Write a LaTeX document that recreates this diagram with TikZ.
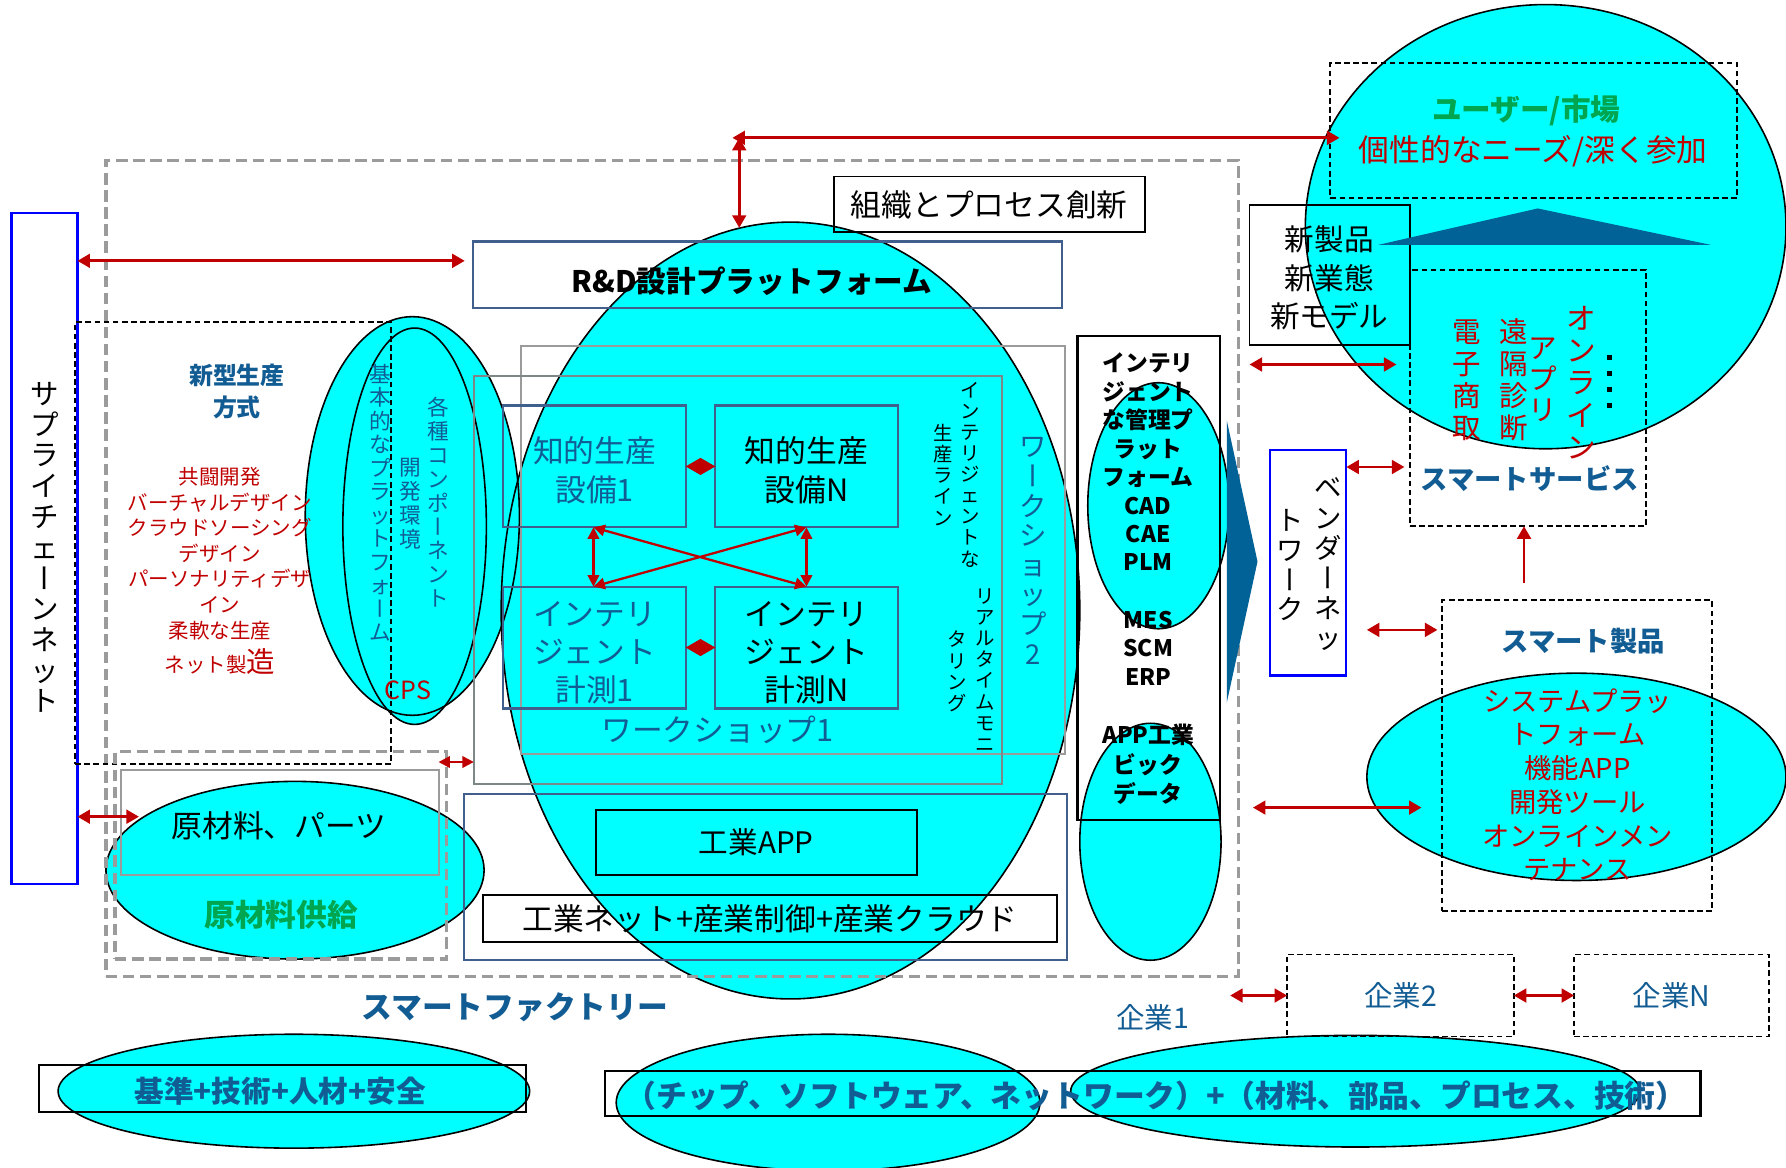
\documentclass[tikz,border=0pt]{standalone}
\usepackage{fontspec}
\setmainfont{Noto Sans CJK JP}
\usepackage{graphicx}
\usetikzlibrary{arrows.meta,fit}
\definecolor{myred}{RGB}{192,0,0}
\definecolor{tblue}{RGB}{18,92,148}
\definecolor{mygreen}{RGB}{0,165,80}
\definecolor{slate}{RGB}{65,95,140}
\definecolor{tri}{RGB}{0,98,150}
\definecolor{gline}{RGB}{155,155,155}
\definecolor{wsb}{RGB}{125,135,135}
\definecolor{mycyan}{RGB}{0,255,255}
\makeatletter
\newcommand\vtxt[2]{\vbox{\baselineskip=#1pt\lineskiplimit=-1000pt\lineskip=0pt\vt@loop#2\@nnil}}
\def\vt@loop#1{\ifx\@nnil#1\else\hbox to 1em{\hss\rule[-.12em]{0pt}{1em}#1\hss}\expandafter\vt@loop\fi}
\makeatother
\newcommand\vbar{\rotatebox[origin=c]{90}{\rule[-.12em]{0pt}{1em}ー}}
\begin{document}
\begin{tikzpicture}[x=1pt,y=-1pt,
  fs/.style args={#1/#2}{font=\fontsize{#1}{#2}\selectfont},
  fsb/.style args={#1/#2}{font=\fontsize{#1}{#2}\selectfont\bfseries},
  every node/.style={inner sep=0pt, outer sep=0pt},
  bx/.style={draw, line width=1.6pt},
  sbx/.style={draw=slate, line width=1.8pt},
  bbx/.style={draw=blue, line width=2pt},
  gdash/.style={draw=gline, line width=2.8pt, dash pattern=on 10pt off 5pt},
  kdash/.style={draw=black, line width=1.6pt, dash pattern=on 5pt off 3pt},
  gbox/.style={draw=wsb, line width=1.8pt},
  rarr/.style={draw=myred, line width=2.4pt, {Triangle[length=11pt,width=12pt]}-{Triangle[length=11pt,width=12pt]}},
  sarr/.style={draw=myred, line width=2pt, {Triangle[length=10pt,width=10pt]}-{Triangle[length=10pt,width=10pt]}},
  dia/.style={draw=myred, line width=1pt, -{Diamond[length=26pt,width=15pt]}},
]
\path[use as bounding box, fill=white] (0,0) rectangle (1568,1025);

% ellipses: fills then outlines
\foreach \cx/\cy/\rx/\ry in {694/536/254/341, 362/453/94/175, 364/462/63/174, 259/764/166/78, 1017/444/62/108, 1010/739/62/104, 1357/199/211/195, 1384/682/184/91, 258/958/207/50, 727/968/186/60, 1190/958/250/49}
  \fill[mycyan] (\cx,\cy) ellipse [x radius=\rx*1pt, y radius=\ry*1pt];
\foreach \cx/\cy/\rx/\ry in {694/536/254/341, 362/453/94/175, 364/462/63/174, 259/764/166/78, 1017/444/62/108, 1010/739/62/104, 1357/199/211/195, 1384/682/184/91, 258/958/207/50, 727/968/186/60, 1190/958/250/49}
  \draw[line width=1.4pt] (\cx,\cy) ellipse [x radius=\rx*1pt, y radius=\ry*1pt];

% boxes
\node[bbx, fit={(10,187) (68,776)}] (supply) {};
\node[gdash, fit={(93,141) (1087,857)}] (factory) {};
\node[bx, fit={(732,155) (1005,204)}] (org) {};
\node[sbx, fit={(415,212) (932,270)}] (rd) {};
\node[kdash, fit={(66,283) (343,671)}] (newstyle) {};
\node[gdash, fit={(101,660) (392,842)}] (rawO) {};
\node[gbox, draw=gline, fit={(106,676) (385,768)}] (rawI) {};
\node[gbox, draw=gline, fit={(457,304) (935,662)}] (ws2) {};
\node[gbox, fit={(416,330) (880,688)}] (ws1) {};
\node[sbx, fit={(442,356) (602,463)}] (eq1) {};
\node[sbx, fit={(628,356) (788,463)}] (eqN) {};
\node[sbx, fit={(442,515) (602,622)}] (ms1) {};
\node[sbx, fit={(628,515) (788,622)}] (msN) {};
\node[sbx, fit={(407,697) (937,843)}] (netO) {};
\node[bx, line width=2pt, fit={(523,711) (805,768)}] (app) {};
\node[bx, line width=2pt, fit={(424,786) (928,827)}] (net) {};
\node[bx, line width=2pt, fit={(946,295) (1071,720)}] (mgmt) {};
\node[bbx, fit={(1115,395) (1182,593)}] (vendor) {};
\node[bx, fit={(1097,180) (1238,303)}] (newprod) {};
\node[kdash, fit={(1168,55) (1525,174)}] (user) {};
\node[kdash, fit={(1238,237) (1445,462)}] (service) {};
\node[kdash, fit={(1266,527) (1503,800)}] (product) {};
\node[kdash, fit={(1130,838) (1329,910)}] (firm2) {};
\node[kdash, fit={(1382,838) (1553,910)}] (firmN) {};
\node[bx, line width=2pt, fit={(34,935) (462,976)}] (std) {};
\node[bx, line width=2pt, fit={(531,940) (1493,980)}] (tech) {};

% triangles
\fill[tri] (1077,369) -- (1104,493) -- (1077,617) -- cycle;
\fill[tri] (1210,215) -- (1350,183) -- (1502,215) -- cycle;

% connectors
\coordinate (c229) at (0,229);
\coordinate (c717) at (0,717);
\coordinate (c669) at (0,669);
\coordinate (c320) at (0,320);
\coordinate (c410) at (0,410);
\coordinate (c553) at (0,553);
\coordinate (c874) at (0,874);
\coordinate (tj) at (649,121);
\coordinate (bigTop) at (649,200);
\coordinate (rawL) at (122,717);
\coordinate (fL) at (1097,320);
\coordinate (vL) at (1200,553);
\coordinate (mL) at (1100,709);
\coordinate (pR) at (1248,709);
\coordinate (f1R) at (1080,874);
\coordinate (upS) at (1338,512);
\coordinate (w1) at (521,0);
\coordinate (w2) at (708,0);
\draw[rarr, shorten >=7pt] (supply.east |- c229) -- (rd.west |- c229);
\draw[rarr, shorten <=-6pt, shorten >=-8pt] (tj) -- (user.west |- tj);
\draw[rarr] (tj) -- (bigTop);
\draw[rarr] (supply.east |- c717) -- (rawL);
\draw[sarr, shorten <=-7pt] (rawO.east |- c669) -- (ws1.west |- c669);
\draw[rarr, shorten >=12pt] (fL) -- (service.west |- c320);
\draw[rarr, shorten >=5pt] (vendor.east |- c410) -- (service.west |- c410);
\draw[rarr, shorten >=4pt] (vL) -- (product.west |- c553);
\draw[rarr] (mL) -- (pR);
\draw[draw=myred, line width=2.4pt, -{Triangle[length=11pt,width=12pt]}] (upS) -- (service.south -| upS);
\draw[rarr] (f1R) -- (firm2.west |- c874);
\draw[rarr] (firm2.east |- c874) -- (firmN.west |- c874);
\draw[sarr] (eq1.south -| w1) -- (ms1.north -| w1);
\draw[sarr] (eqN.south -| w2) -- (msN.north -| w2);
\draw[sarr] (eq1.south -| w1) -- (msN.north -| w2);
\draw[sarr] (eqN.south -| w2) -- (ms1.north -| w1);
\draw[dia] (eq1.east) -- (eqN.west);
\draw[dia] (ms1.east) -- (msN.west);
\foreach \yy in {312,326,340,354} \fill (1411,\yy) rectangle (1415,\yy+4);

% texts
\node[fs=25/27, anchor=north] (supT) at (39,333) {\vtxt{27}{サプライチェ\vbar ンネット}};
\node[fs=27/30] (orgT) at (org.center) {組織とプロセス創新};
\node[fsb=26/30] (rdT) at (660,247) {R\&D設計プラットフォーム};
\node[fsb=21/28, text=tblue, align=center] (nsT) at (208,344) {新型生産\\方式};
\node[fs=18/22.5, text=myred, align=center] (rl) at (193,486) {共闘開発\\バーチャルデザイン\\クラウドソーシング\\デザイン\\パーソナリティデザ\\イン\\柔軟な生産};
\node[fs=18/22, text=myred] (rl2) at (193,581) {ネット製{\fontsize{25}{25}\selectfont 造}};
\node[fs=19/20, text=tblue, anchor=north] (cpsA) at (334,319) {\vtxt{20.6}{基本的なプラットフォ\vbar ム}};
\node[fs=19/20, text=tblue, anchor=north] (cpsB) at (360,401) {\vtxt{21}{開発環境}};
\node[fs=19/20, text=tblue, anchor=north] (cpsC) at (385,348) {\vtxt{21}{各種コンポ\vbar ネント}};
\node[fs=22/22, text=myred] (cpsT) at (358,606) {CPS};
\node[fs=27/34, text=tblue, align=center] (eq1T) at (522,413) {知的生産\\設備1};
\node[fs=27/34, align=center] (eqNT) at (708,413) {知的生産\\設備N};
\node[fs=27/33, text=tblue, align=center] (ms1T) at (522,573) {インテリ\\ジェント\\計測1};
\node[fs=27/33, align=center] (msNT) at (708,573) {インテリ\\ジェント\\計測N};
\node[fs=27/30, text=tblue] (ws1T) at (630,641) {ワークショップ1};
\node[fs=17/18, anchor=north] (il1) at (852,334) {\vtxt{18.5}{インテリジェントな}};
\node[fs=17/18, anchor=north] (il2) at (828,372) {\vtxt{18.5}{生産ライン}};
\node[fs=17/18, anchor=north] (il3) at (865,515) {\vtxt{18.5}{リアルタイムモニ}};
\node[fs=17/18, anchor=north] (il4) at (840,553) {\vtxt{18.5}{タリング}};
\node[fs=24/26, text=tblue, anchor=north] (ws2T) at (907,380) {\vtxt{26}{ワ\vbar クショップ2}};
\node[fs=26/30] (appT) at (app.center) {工業APP};
\node[fs=27/30] (netT) at (net.center) {工業ネット+産業制御+産業クラウド};
\node[fsb=20/25, align=center] (mgT1) at (1008,405.5) {インテリ\\ジェント\\な管理プ\\ラット\\フォーム\\CAD\\CAE\\PLM};
\node[fsb=20/25, align=center] (mgT2) at (1008,569) {MES\\SCM\\ERP};
\node[fsb=20/25.5, align=center] (mgT3) at (1008,671) {APP工業\\ビック\\データ};
\node[fs=24/26, anchor=north] (venA) at (1166,416) {\vtxt{26.5}{ベンダ\vbar ネッ}};
\node[fs=24/26, anchor=north] (venB) at (1133,445) {\vtxt{26}{トワ\vbar ク}};
\node[fs=26/33.5, align=center] (npT) at (1167,244) {新製品\\新業態\\新モデル};
\node[fsb=26/30, text=mygreen] (userT1) at (1340,97) {ユーザー/市場};
\node[fs=27/30, text=myred] (userT2) at (1346,133) {個性的なニーズ/深く参加};
\node[fs=25/28, text=myred, anchor=north] (sv1) at (1288,279) {\vtxt{28}{電子商取}};
\node[fs=25/28, text=myred, anchor=north] (sv2) at (1329,279) {\vtxt{28}{遠隔診断}};
\node[fs=25/28, text=myred, anchor=north] (sv3) at (1354,293) {\vtxt{27}{アプリ}};
\node[fs=26/28, text=myred, anchor=north] (sv4) at (1388,266) {\vtxt{28.5}{オンライン}};
\node[fsb=24/28, text=tblue] (svT) at (1343,420) {スマートサービス};
\node[fsb=24/28, text=tblue] (pdT) at (1390,563) {スマート製品};
\node[fs=24/29.6, text=myred, align=center] (pdL) at (1385,689) {システムプラッ\\トフォーム\\機能APP\\開発ツール\\オンラインメン\\テナンス};
\node[fs=25/28, text=tblue] (f2T) at (firm2.center) {企業2};
\node[fs=25/28, text=tblue] (fNT) at (firmN.center) {企業N};
\node[fs=25/28, text=tblue] (f1T) at (1012,893) {企業1};
\node[fsb=27/30, text=tblue] (sfT) at (452,884) {スマートファクトリー};
\node[fs=27/30] (rawT) at (245,725) {原材料、パーツ};
\node[fsb=27/30, text=mygreen] (rawT2) at (247,803) {原材料供給};
\node[fsb=26/30, text=tblue] (stdT) at (246,958) {基準+技術+人材+安全};
\node[fsb=27/30, text=tblue] (techT) at (1015,962) {（チップ、ソフトウェア、ネットワーク）+（材料、部品、プロセス、技術）};
\end{tikzpicture}
\end{document}
